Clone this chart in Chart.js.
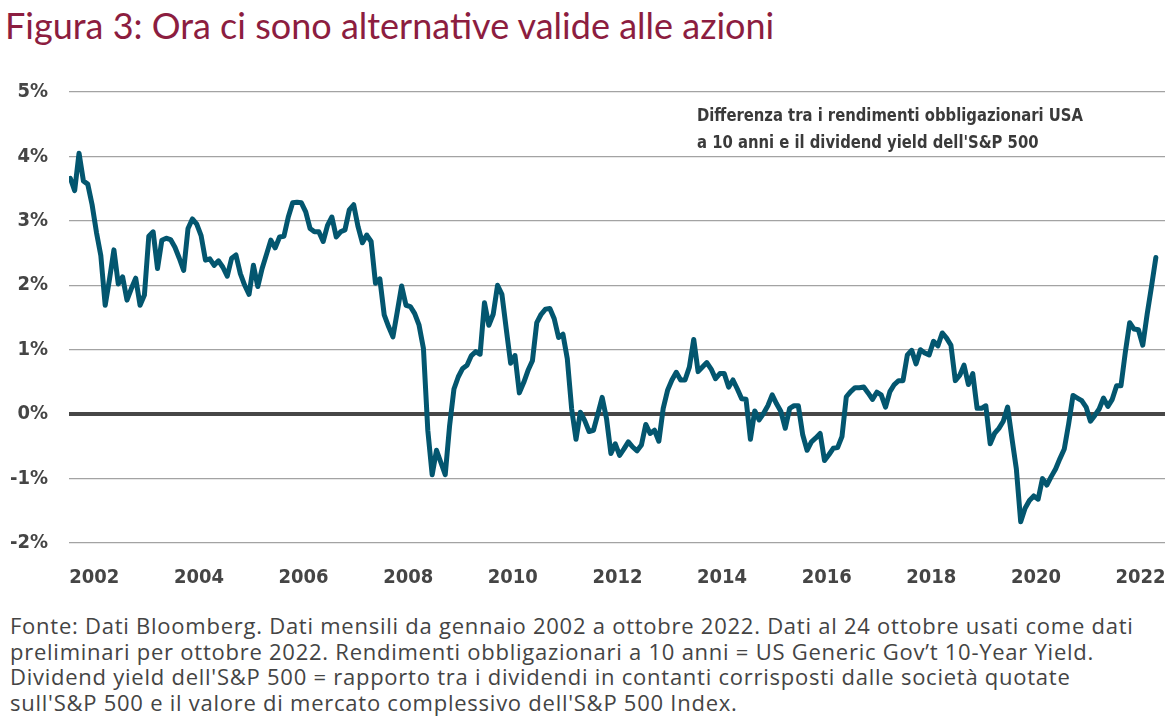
<!DOCTYPE html>
<html lang="it">
<head>
<meta charset="utf-8">
<title>Figura 3</title>
<script src="https://cdn.jsdelivr.net/npm/chart.js@4.4.1/dist/chart.umd.min.js"></script>
<style>
  html, body { margin: 0; padding: 0; background: #fff; }
  body { width: 1174px; height: 722px; position: relative; overflow: hidden; font-family: Lato, sans-serif; }
  #title { position: absolute; left: 5px; top: 3px; font-size: 36px; color: #8c1d40; white-space: nowrap; }
  #chart-wrap { position: absolute; left: 0; top: 55px; width: 1174px; height: 545px; }
  #note { position: absolute; left: 10px; top: 613px; font-family: "Open Sans", sans-serif; font-size: 22px; letter-spacing: 0.75px; line-height: 25.5px; color: #444; white-space: nowrap; }
</style>
</head>
<body>
<div id="title">Figura 3: Ora ci sono alternative valide alle azioni</div>
<div id="chart-wrap"><canvas id="myChart" width="1174" height="545"></canvas></div>
<div id="note">Fonte: Dati Bloomberg. Dati mensili da gennaio 2002 a ottobre 2022. Dati al 24 ottobre usati come dati<br>preliminari per ottobre 2022. Rendimenti obbligazionari a 10 anni = US Generic Gov’t 10-Year Yield.<br>Dividend yield dell'S&amp;P 500 = rapporto tra i dividendi in contanti corrisposti dalle società quotate<br>sull'S&amp;P 500 e il valore di mercato complessivo dell'S&amp;P 500 Index.</div>
<script>
// monthly spread (%), Jan 2002 .. Oct 2022
var spread = [
  3.66, 3.47, 4.05, 3.62, 3.57, 3.25, 2.82, 2.46, 1.69, 2.10, 2.55, 2.02,
  2.13, 1.77, 1.95, 2.11, 1.69, 1.85, 2.76, 2.83, 2.26, 2.70, 2.73, 2.71,
  2.59, 2.42, 2.23, 2.88, 3.03, 2.95, 2.77, 2.39, 2.41, 2.31, 2.38, 2.28,
  2.14, 2.42, 2.47, 2.18, 2.00, 1.86, 2.31, 1.98, 2.26, 2.48, 2.70, 2.58,
  2.75, 2.76, 3.06, 3.28, 3.29, 3.28, 3.14, 2.88, 2.83, 2.83, 2.68, 2.93,
  3.06, 2.75, 2.83, 2.86, 3.17, 3.25, 2.91, 2.66, 2.78, 2.68, 2.03, 2.10,
  1.54, 1.36, 1.20, 1.59, 1.99, 1.69, 1.67, 1.56, 1.38, 1.02, -0.25, -0.94,
  -0.56, -0.75, -0.94, -0.18, 0.39, 0.58, 0.71, 0.76, 0.91, 0.97, 0.93, 1.73,
  1.38, 1.55, 2.00, 1.86, 1.32, 0.79, 0.91, 0.33, 0.49, 0.68, 0.83, 1.42,
  1.55, 1.63, 1.64, 1.48, 1.19, 1.24, 0.86, 0.08, -0.39, 0.03, -0.10, -0.27,
  -0.25, 0.00, 0.26, -0.07, -0.61, -0.46, -0.64, -0.54, -0.43, -0.51, -0.57, -0.48,
  -0.16, -0.30, -0.25, -0.42, 0.09, 0.37, 0.53, 0.65, 0.53, 0.53, 0.73, 1.16,
  0.66, 0.73, 0.80, 0.70, 0.55, 0.63, 0.63, 0.42, 0.53, 0.39, 0.24, 0.23,
  -0.39, 0.05, -0.09, 0.01, 0.13, 0.30, 0.16, 0.04, -0.22, 0.09, 0.13, 0.13,
  -0.32, -0.56, -0.43, -0.37, -0.30, -0.72, -0.63, -0.53, -0.52, -0.35, 0.27, 0.35,
  0.41, 0.41, 0.42, 0.33, 0.23, 0.34, 0.30, 0.11, 0.35, 0.46, 0.52, 0.52,
  0.92, 0.99, 0.78, 1.00, 0.95, 0.92, 1.13, 1.06, 1.26, 1.18, 1.07, 0.52,
  0.60, 0.76, 0.46, 0.63, 0.09, 0.09, 0.13, -0.46, -0.30, -0.22, -0.11, 0.11,
  -0.38, -0.85, -1.67, -1.46, -1.34, -1.27, -1.32, -1.00, -1.10, -0.97, -0.85, -0.69,
  -0.54, -0.15, 0.29, 0.25, 0.21, 0.11, -0.11, -0.02, 0.08, 0.25, 0.12, 0.23,
  0.44, 0.44, 0.96, 1.42, 1.32, 1.31, 1.07, 1.55, 1.98, 2.43
];
var yearLabels = ['2002', '2004', '2006', '2008', '2010', '2012', '2014', '2016', '2018', '2020', '2022'];
var yTicks = [-2, -1, 0, 1, 2, 3, 4, 5];
var seriesNote = ['Differenza tra i rendimenti obbligazionari USA', "a 10 anni e il dividend yield dell'S&P 500"];

var tickFont = { family: '"DejaVu Sans Condensed", "DejaVu Sans", sans-serif', size: 20, weight: 'bold' };
var tickColor = '#454545';

var points = spread.map(function (v, i) { return { x: i, y: v }; });

// series description, squeezed to the narrow width of the original
var notePlugin = {
  id: 'seriesNote',
  afterDraw: function (chart) {
    var ctx = chart.ctx;
    ctx.save();
    ctx.font = 'bold 18px "DejaVu Sans Condensed", sans-serif';
    ctx.fillStyle = '#3a3a3a';
    ctx.textBaseline = 'middle';
    var k = 386 / ctx.measureText(seriesNote[0]).width;
    ctx.translate(697, 0);
    ctx.scale(k, 1);
    seriesNote.forEach(function (t, i) { ctx.fillText(t, 0, 61 + i * 27); });
    ctx.restore();
  }
};

var options = {
  type: 'line',
  data: {
    datasets: [{
      label: seriesNote.join(' '),
      data: points,
      borderColor: '#03566f',
      borderWidth: 5,
      pointRadius: 0,
      tension: 0,
      borderJoinStyle: 'round',
      borderCapStyle: 'round'
    }]
  },
  options: {
    responsive: false,
    animation: false,
    layout: { padding: { top: 37, right: 9, left: 0, bottom: 0 } },
    plugins: {
      legend: { display: false },
      tooltip: { enabled: false }
    },
    scales: {
      x: {
        type: 'linear',
        min: -0.3,
        max: 251.1,
        afterBuildTicks: function (scale) {
          scale.ticks = yearLabels.map(function (y, i) { return { value: i * 24 + 5.5 }; });
        },
        afterFit: function (scale) {
          scale.height = 57;
          scale.paddingLeft = 0;
          scale.paddingRight = 0;
        },
        ticks: {
          callback: function (v, i) { return yearLabels[i]; },
          font: tickFont,
          color: tickColor,
          padding: 23,
          maxRotation: 0,
          autoSkip: false
        },
        grid: { display: false, drawTicks: false },
        border: { display: false }
      },
      y: {
        min: -2,
        max: 5,
        afterBuildTicks: function (scale) {
          scale.ticks = yTicks.map(function (v) { return { value: v }; });
        },
        afterFit: function (scale) { scale.width = 69; },
        ticks: {
          callback: function (v) { return v + '%'; },
          font: tickFont,
          color: tickColor,
          padding: 21
        },
        grid: {
          drawTicks: false,
          color: function (c) { return c.tick && c.tick.value === 0 ? '#474747' : '#a3a3a3'; },
          lineWidth: function (c) { return c.tick && c.tick.value === 0 ? 4 : 1.3; }
        },
        border: { display: false }
      }
    }
  },
  plugins: [notePlugin]
};

var ctx = document.getElementById('myChart');
var chart = new Chart(ctx, options);
</script>
</body>
</html>
